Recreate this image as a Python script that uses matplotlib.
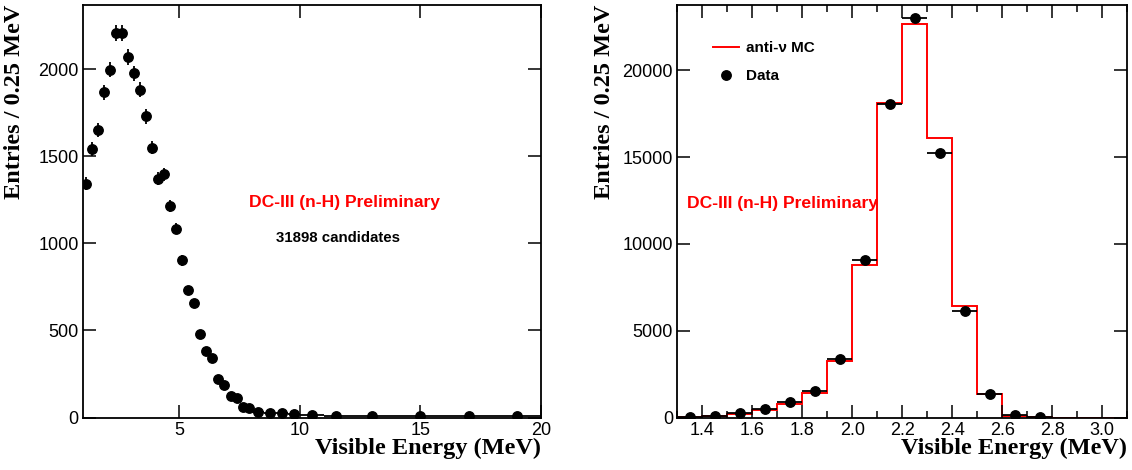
import numpy as np
import matplotlib
matplotlib.use('Agg')
import matplotlib.pyplot as plt
from matplotlib.lines import Line2D
from matplotlib.ticker import MultipleLocator, FormatStrFormatter

plt.rcParams['font.family'] = ['Liberation Sans', 'DejaVu Sans']

# left panel: full spectrum, entries / 0.25 MeV
e_left = [1.125, 1.375, 1.625, 1.875, 2.125, 2.375, 2.625, 2.875, 3.125, 3.375,
          3.625, 3.875, 4.125, 4.375, 4.625, 4.875, 5.125, 5.375, 5.625, 5.875,
          6.125, 6.375, 6.625, 6.875, 7.125, 7.375, 7.625, 7.875,
          8.25, 8.75, 9.25, 9.75, 10.5, 11.5, 13.0, 15.0, 17.0, 19.0]
half_w_left = [0.125] * 28 + [0.25, 0.25, 0.25, 0.25, 0.5, 0.5, 1.0, 1.0, 1.0, 1.0]
n_left = [1343, 1543, 1650, 1869, 1999, 2208, 2208, 2072, 1978, 1884,
          1731, 1551, 1371, 1398, 1217, 1085, 903, 731, 656, 478,
          380, 344, 223, 187, 124, 114, 62, 56,
          33, 28, 24, 22, 14, 9, 9, 9, 10, 9]
err_left = [37, 39, 41, 43, 45, 47, 47, 46, 44, 43,
            42, 39, 37, 37, 35, 33, 30, 27, 26, 22,
            19, 19, 15, 14, 11, 11, 8, 7,
            4, 4, 3, 3, 2, 1, 1, 1, 1, 1]

# right panel: n-H capture peak
edges_right = [1.3, 1.4, 1.5, 1.6, 1.7, 1.8, 1.9, 2.0, 2.1, 2.2, 2.3,
               2.4, 2.5, 2.6, 2.7, 2.8, 2.9, 3.0, 3.1]
mc_right = [30, 75, 190, 438, 767, 1383, 3228, 8778, 18133, 22651,
            16098, 6397, 1326, 115, 8, 0, 0, 0]
e_right = [1.35, 1.45, 1.55, 1.65, 1.75, 1.85, 1.95, 2.05, 2.15, 2.25,
           2.35, 2.45, 2.55, 2.65, 2.75]
n_right = [35, 115, 265, 496, 900, 1516, 3378, 9049, 18040, 22997,
           15233, 6144, 1360, 133, 10]

serif = dict(family='Liberation Serif', weight='bold', size=17.5)

fig = plt.figure(figsize=(11.32, 4.70), dpi=100)
ax1 = fig.add_axes([0.0731, 0.1117, 0.4049, 0.8777])
ax2 = fig.add_axes([0.5983, 0.1117, 0.3975, 0.8777])

# left
ax1.errorbar(e_left, n_left, xerr=half_w_left, yerr=err_left, fmt='o', color='black',
             ms=6.8, elinewidth=1.3, capsize=0)
ax1.set_xlim(1, 20)
ax1.set_ylim(0, 2370)
ax1.xaxis.set_major_locator(MultipleLocator(5))
ax1.yaxis.set_major_locator(MultipleLocator(500))
ax1.text(0.572, 0.520, 'DC-III (n-H) Preliminary', transform=ax1.transAxes, color='red',
         fontsize=12.6, fontweight='bold', ha='center', va='center')
ax1.text(0.556, 0.435, '31898 candidates', transform=ax1.transAxes, color='black',
         fontsize=10.8, fontweight='bold', ha='center', va='center')

# right
ax2.stairs(mc_right, edges_right, color='red', lw=1.4)
ax2.errorbar(e_right, n_right, xerr=0.05, fmt='o', color='black', ms=6.8,
             elinewidth=1.3, capsize=0)
ax2.set_xlim(1.3, 3.1)
ax2.set_ylim(0, 23760)
ax2.xaxis.set_major_locator(MultipleLocator(0.2))
ax2.xaxis.set_minor_locator(MultipleLocator(0.1))
ax2.xaxis.set_major_formatter(FormatStrFormatter('%.1f'))
ax2.yaxis.set_major_locator(MultipleLocator(5000))
ax2.text(0.234, 0.519, 'DC-III (n-H) Preliminary', transform=ax2.transAxes, color='red',
         fontsize=12.6, fontweight='bold', ha='center', va='center')
handles = [Line2D([], [], color='red', lw=1.4),
           Line2D([], [], color='black', marker='o', ls='none', ms=6.8)]
ax2.legend(handles, ['anti-\u03bd MC', 'Data'], loc='upper left',
           bbox_to_anchor=(0.0787, 0.913), frameon=False, borderpad=0, borderaxespad=0,
           handlelength=1.75, handletextpad=0.4, labelspacing=0.95,
           prop=dict(weight='bold', size=11))

for ax, lx in ((ax1, -0.1368), (ax2, -0.1495)):
    ax.tick_params(which='both', direction='in', top=True, right=True, labelsize=13, pad=3)
    ax.tick_params(which='major', length=9.4, width=1.1)
    ax.tick_params(which='minor', length=4.8, width=1.1)
    for s in ax.spines.values():
        s.set_linewidth(1.3)
    ax.set_xlabel('Visible Energy (MeV)', fontdict=serif, loc='right')
    ax.set_ylabel('Entries / 0.25 MeV', fontdict=serif, loc='top', va='baseline')
    ax.xaxis.set_label_coords(1.0, -0.049)
    ax.yaxis.set_label_coords(lx, 1.0)

fig.savefig('out.png', dpi=100)
